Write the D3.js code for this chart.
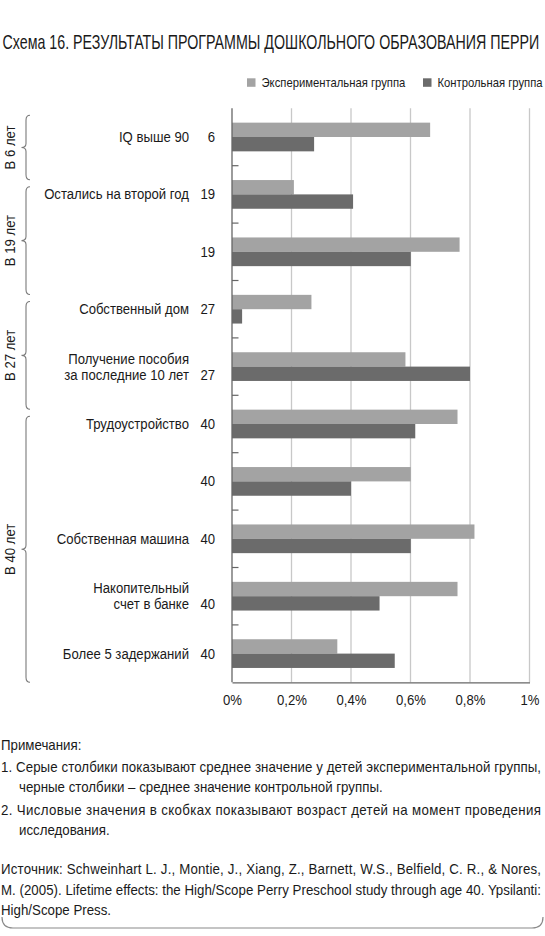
<!DOCTYPE html>
<html>
<head>
<meta charset="utf-8">
<script src="https://cdn.jsdelivr.net/npm/d3@7"></script>
<style>
  html, body { margin: 0; padding: 0; background: #fff; }
  svg text { font-family: "Liberation Sans", Arial, sans-serif; fill: #1a1a1a; }
</style>
</head>
<body>
<div id="chart"></div>
<script>
// --- data ---
const categories = [
  "IQ выше 90",
  "Остались на второй год",
  "",
  "Собственный дом",
  "Получение пособия\nза последние 10 лет",
  "Трудоустройство",
  "",
  "Собственная машина",
  "Накопительный\nсчет в банке",
  "Более 5 задержаний"
];
const ages = [6, 19, 19, 27, 27, 40, 40, 40, 40, 40];
const experimental = [0.666, 0.208, 0.765, 0.267, 0.583, 0.758, 0.601, 0.815, 0.758, 0.354];
const control = [0.276, 0.407, 0.601, 0.034, 0.80, 0.616, 0.40, 0.601, 0.496, 0.547];
const seriesNames = ["Экспериментальная группа", "Контрольная группа"];
const groupLabels = ["В 6 лет", "В 19 лет", "В 27 лет", "В 40 лет"];
const groupFirst = [0, 1, 3, 5];
const groupLast = [0, 2, 4, 9];
const xTicks = [0, 0.2, 0.4, 0.6, 0.8, 1];

const title = "Схема 16. РЕЗУЛЬТАТЫ ПРОГРАММЫ ДОШКОЛЬНОГО ОБРАЗОВАНИЯ ПЕРРИ";
const notes = [
  { text: "Примечания:", indent: 0, justify: false },
  { text: "1. Серые столбики показывают среднее значение у детей экспериментальной группы,", indent: 0, justify: true },
  { text: "черные столбики – среднее значение контрольной группы.", indent: 1, justify: false },
  { text: "2. Числовые значения в скобках показывают возраст детей на момент проведения", indent: 0, justify: true },
  { text: "исследования.", indent: 1, justify: false }
];
const source = [
  { text: "Источник: Schweinhart L. J., Montie, J., Xiang, Z., Barnett, W.S., Belfield, C. R., & Nores,", justify: true },
  { text: "M. (2005). Lifetime effects: the High/Scope Perry Preschool study through age 40. Ypsilanti:", justify: true },
  { text: "High/Scope Press.", justify: false }
];

const colors = ["#a3a3a3", "#6b6b6b"];

// --- layout ---
const W = 545, H = 936;
const plot = { left: 232, right: 529.5, top: 108.3, bottom: 682.3 };

const svg = d3.select("#chart").append("svg")
  .attr("width", W)
  .attr("height", H);

// the reference uses a condensed face; squeeze the installed one horizontally
function measure(str, size) {
  const t = svg.append("text").style("font-size", size + "px").text(str);
  const w = t.node().getComputedTextLength();
  t.remove();
  return w;
}
const kLabel = 145 / measure("Остались на второй год", 14.5);
const kTitle = 537 / measure(title, 20.5);
const kLegend = 144 / measure(seriesNames[0], 12.5);
const kNote = 364 / measure(notes[2].text, 14);

function addText(parent, x, y, str, size, k, anchor, rotate) {
  return parent.append("text")
    .attr("transform", `translate(${x},${y})` + (rotate ? ` rotate(${rotate})` : "") + ` scale(${k},1)`)
    .attr("text-anchor", anchor || "start")
    .style("font-size", size + "px")
    .text(str);
}

// title
addText(svg, 2.5, 48.5, title, 20.5, kTitle);

// legend
const legendX = [247, 423];
const legend = svg.append("g").attr("class", "legend");
seriesNames.forEach((name, i) => {
  legend.append("rect")
    .attr("x", legendX[i]).attr("y", 78.3)
    .attr("width", 8.5).attr("height", 8.5)
    .attr("fill", colors[i]);
  addText(legend, legendX[i] + 14.5, 87, name, 12.5, kLegend);
});

// scales
const x = d3.scaleLinear().domain([0, 1]).range([plot.left, plot.right]);
const y = d3.scaleBand().domain(d3.range(categories.length))
  .range([plot.top, plot.bottom]).paddingInner(0.5).paddingOuter(0.25);
const band = y.step();
const bandTop = i => plot.top + i * band;
const bandMid = i => bandTop(i) + band / 2;

// gridlines
svg.append("g").selectAll("line")
  .data(xTicks.filter(d => d > 0))
  .join("line")
  .attr("x1", d => x(d)).attr("x2", d => x(d))
  .attr("y1", plot.top).attr("y2", plot.bottom)
  .attr("stroke", "#c8c8c8").attr("stroke-width", 1.3);

// x axis labels
const fmt = d => (d === 0 || d === 1 ? d3.format("d")(d) : d3.format(".1f")(d).replace(".", ",")) + "%";
const xAxis = svg.append("g")
  .attr("transform", `translate(0,${plot.bottom})`)
  .call(d3.axisBottom(x).tickValues(xTicks).tickFormat(fmt).tickSize(0).tickPadding(12));
xAxis.select(".domain").attr("stroke", "#666").attr("stroke-width", 1.3);
xAxis.selectAll("text")
  .attr("font-family", null)
  .attr("transform", `scale(${kLabel},1)`)
  .style("font-size", "14.5px").attr("fill", "#1a1a1a");

// bars
const barH = y.bandwidth() / 2;
const bars = svg.append("g");
bars.selectAll("rect.exp")
  .data(experimental)
  .join("rect")
  .attr("class", "exp")
  .attr("x", x(0)).attr("y", (d, i) => y(i))
  .attr("width", d => x(d) - x(0)).attr("height", barH)
  .attr("fill", colors[0]);
bars.selectAll("rect.ctl")
  .data(control)
  .join("rect")
  .attr("class", "ctl")
  .attr("x", x(0)).attr("y", (d, i) => y(i) + barH)
  .attr("width", d => x(d) - x(0)).attr("height", barH)
  .attr("fill", colors[1]);

// y axis line and inner ticks at category boundaries
svg.append("line")
  .attr("x1", plot.left).attr("x2", plot.left)
  .attr("y1", plot.top).attr("y2", plot.bottom)
  .attr("stroke", "#666").attr("stroke-width", 1.3);
svg.append("g").selectAll("line")
  .data(d3.range(1, categories.length))
  .join("line")
  .attr("x1", plot.left).attr("x2", plot.left + 6.5)
  .attr("y1", d => bandTop(d)).attr("y2", d => bandTop(d))
  .attr("stroke", "#666").attr("stroke-width", 1.2);

// category labels and ages
const labels = svg.append("g");
categories.forEach((c, i) => {
  const lines = c ? c.split("\n") : [];
  const cy = bandMid(i) + 5;
  const start = cy - (lines.length - 1) * 8;
  lines.forEach((ln, k) => {
    addText(labels, 189, start + k * 16, ln, 14.5, kLabel, "end");
  });
  const ageY = lines.length > 1 ? start + (lines.length - 1) * 16 : cy;
  addText(labels, 215, ageY, ages[i], 14.5, kLabel, "end");
});

// group braces with rotated labels; each brace starts a small gap below the previous one
const braceX = 26;
const braces = svg.append("g");
let prevEnd = plot.top;
groupLabels.forEach((g, i) => {
  const y0 = prevEnd + 7;
  const y1 = Math.min(bandTop(groupLast[i] + 1) + 14, plot.bottom);
  prevEnd = y1;
  const ym = (y0 + y1) / 2;
  const p = d3.path();
  p.moveTo(braceX + 4, y0);
  p.quadraticCurveTo(braceX, y0, braceX, y0 + 5);
  p.lineTo(braceX, ym - 4);
  p.quadraticCurveTo(braceX, ym, braceX - 4.5, ym);
  p.quadraticCurveTo(braceX, ym, braceX, ym + 4);
  p.lineTo(braceX, y1 - 5);
  p.quadraticCurveTo(braceX, y1, braceX + 4, y1);
  braces.append("path")
    .attr("d", p.toString())
    .attr("fill", "none")
    .attr("stroke", "#7a7a7a")
    .attr("stroke-width", 1.1);
  addText(braces, 14.5, ym, g, 14.5, kLabel, "middle", -90);
});

// notes
const notesY = [750, 772, 792, 815, 835];
const notesG = svg.append("g");
notes.forEach((n, i) => {
  const x0 = n.indent ? 19 : 1;
  const t = addText(notesG, x0, notesY[i], n.text, 14, kNote);
  if (n.justify) t.attr("textLength", (541 - x0) / kNote).attr("lengthAdjust", "spacing");
});
const sourceY = [874, 895, 915];
source.forEach((s, i) => {
  const t = addText(notesG, 1, sourceY[i], s.text, 14, kNote);
  if (s.justify) t.attr("textLength", 540 / kNote).attr("lengthAdjust", "spacing");
});

// bottom rounded rule
svg.append("path")
  .attr("d", "M2,917 Q2,928 13,928 L532,928 Q543,928 543,917")
  .attr("fill", "none")
  .attr("stroke", "#8a8a8a")
  .attr("stroke-width", 1.2);
</script>
</body>
</html>
